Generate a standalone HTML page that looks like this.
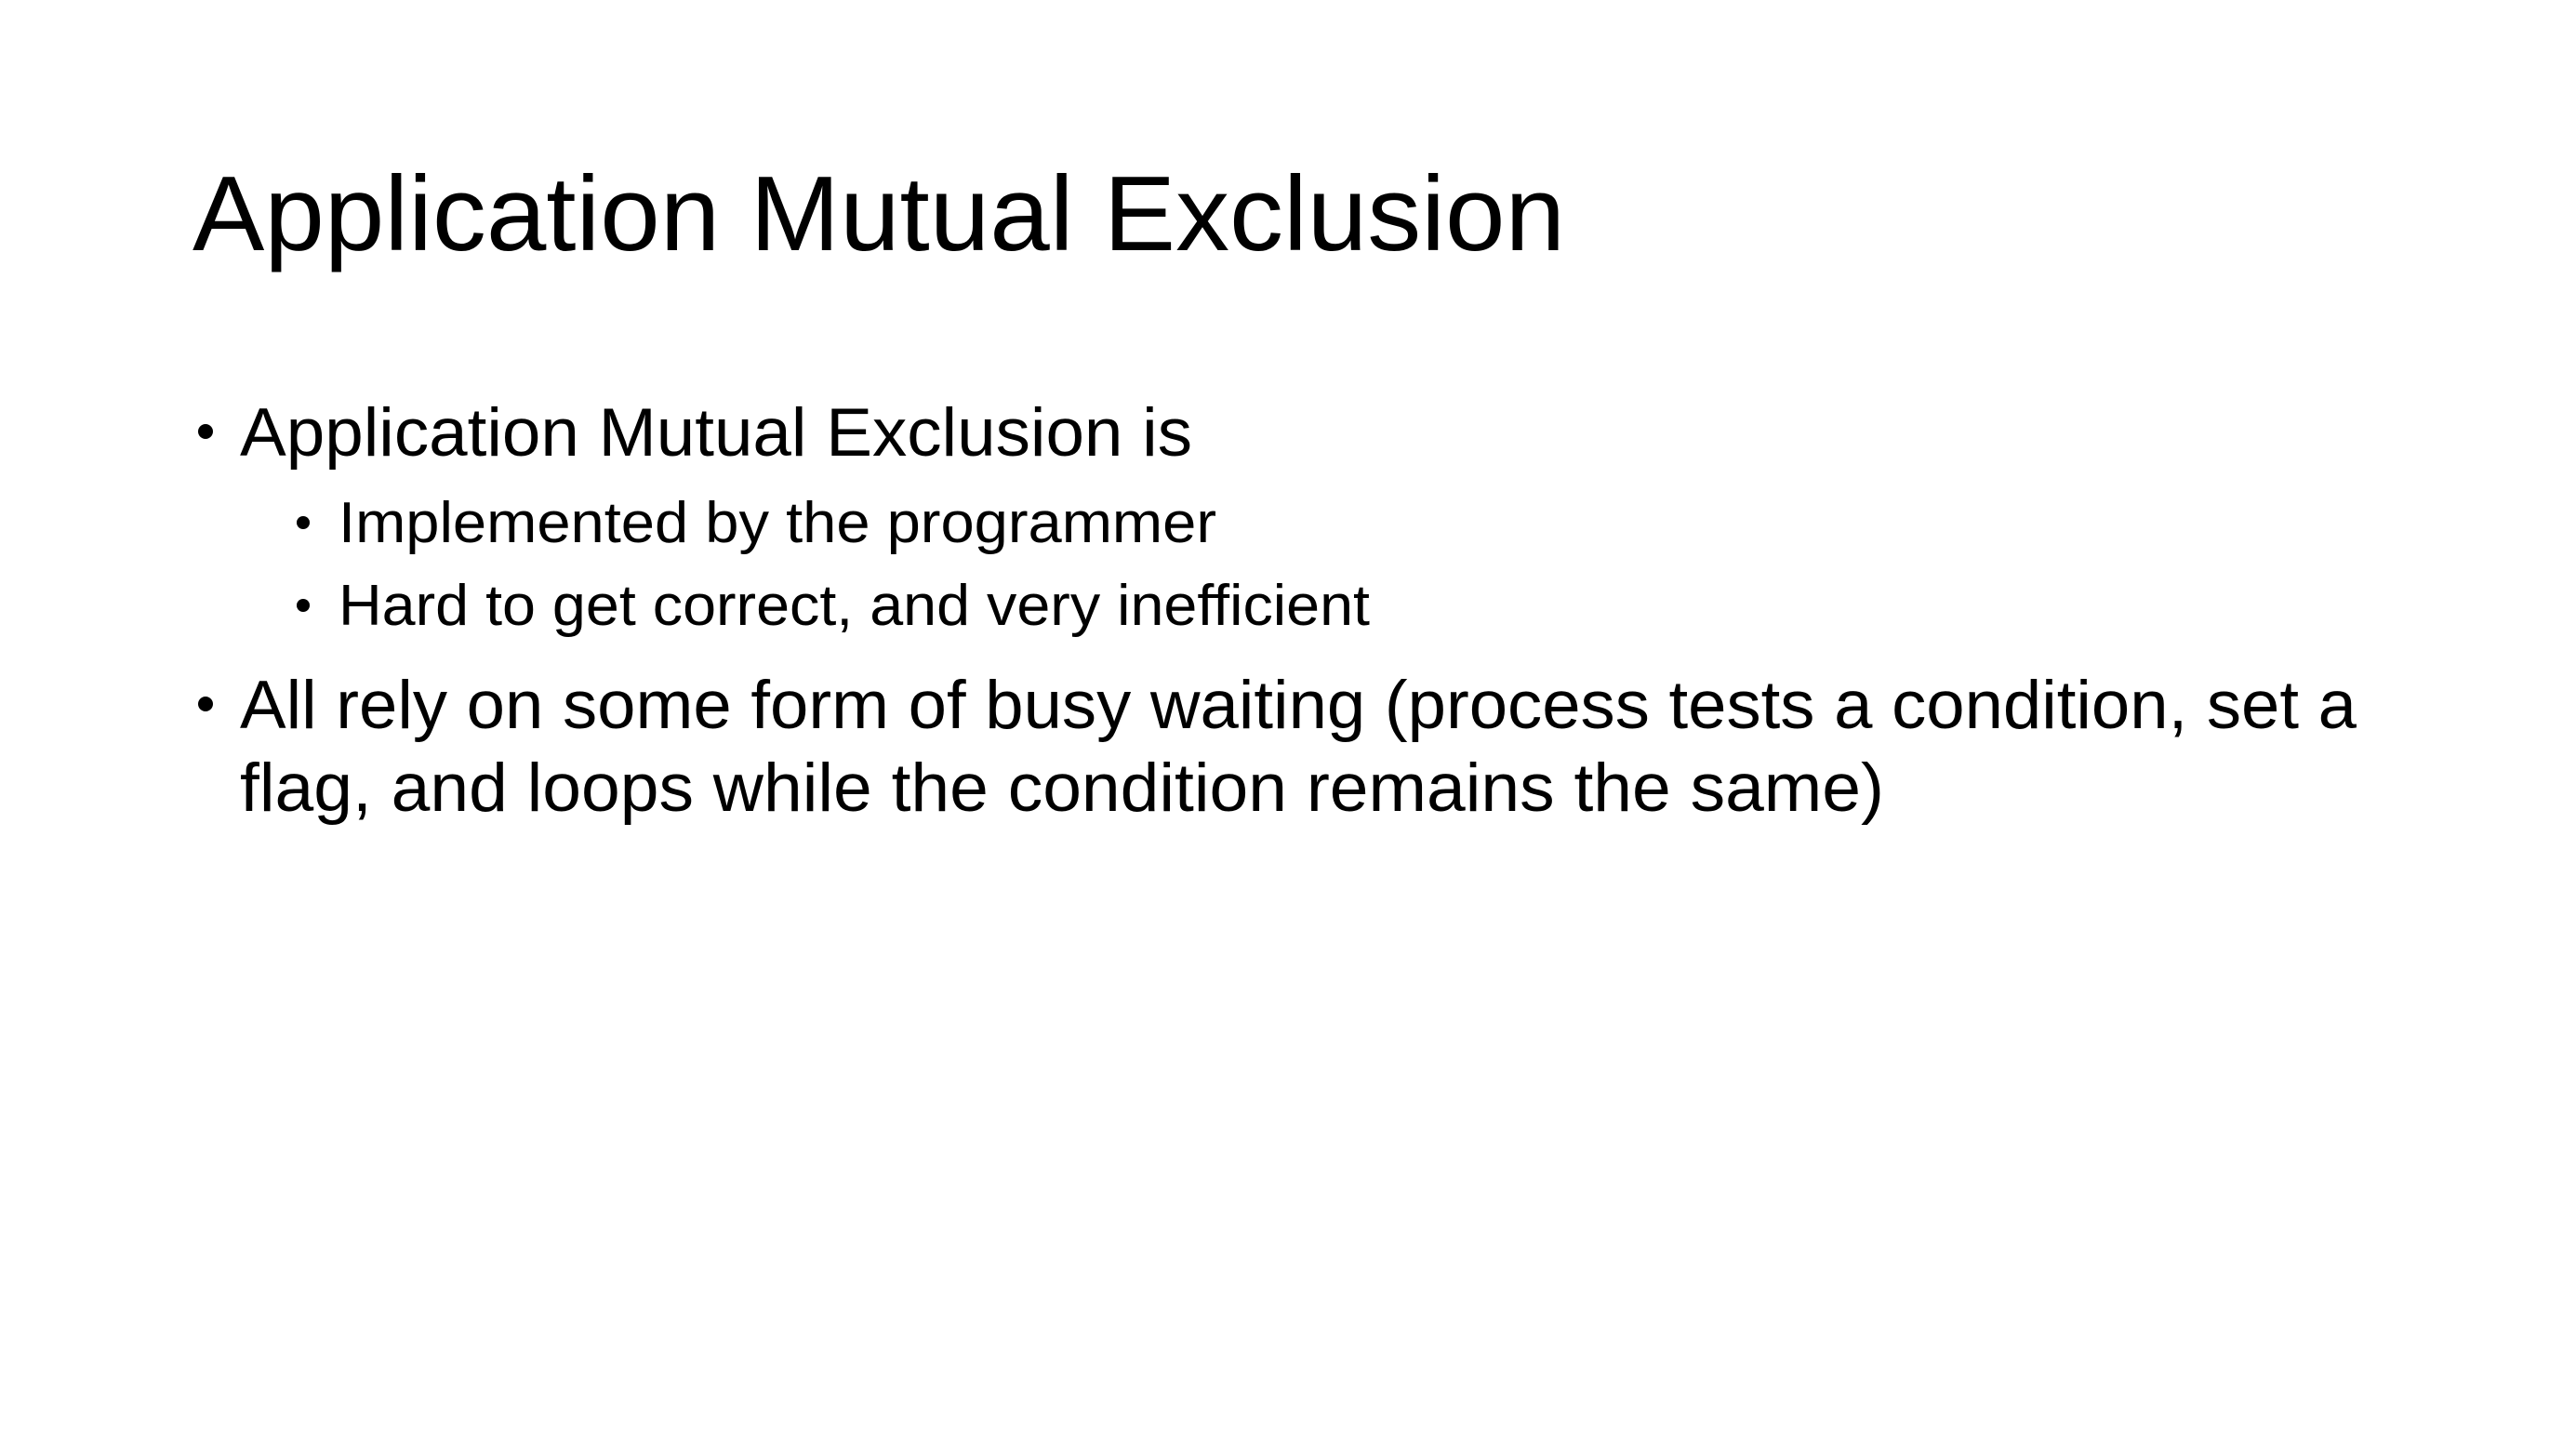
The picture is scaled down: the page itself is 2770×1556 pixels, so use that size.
<!DOCTYPE html>
<html><head><meta charset="utf-8"><style>
html,body{margin:0;padding:0;background:#fff;}
svg{display:block;}
text{font-family:"Liberation Sans",sans-serif;fill:#000;}
</style></head><body>
<svg width="2770" height="1556" viewBox="0 0 2770 1556" xmlns="http://www.w3.org/2000/svg">
<rect width="2770" height="1556" fill="#fff"/>
<text x="207" y="269" font-size="114" textLength="1476" lengthAdjust="spacingAndGlyphs" style="font-weight:300">Application Mutual Exclusion</text>
<circle cx="221" cy="464" r="8"/>
<text x="258" y="490" font-size="73" textLength="1024" lengthAdjust="spacingAndGlyphs">Application Mutual Exclusion is</text>
<circle cx="326" cy="562" r="7"/>
<text x="364" y="583" font-size="62" textLength="944" lengthAdjust="spacingAndGlyphs">Implemented by the programmer</text>
<circle cx="326" cy="651" r="7"/>
<text x="364" y="672" font-size="62" textLength="1109" lengthAdjust="spacingAndGlyphs">Hard to get correct, and very inefficient</text>
<circle cx="221" cy="757" r="8"/>
<text x="258" y="783" font-size="73" textLength="2276" lengthAdjust="spacingAndGlyphs">All rely on some form of busy waiting (process tests a condition, set a</text>
<text x="258" y="872" font-size="73" textLength="1768" lengthAdjust="spacingAndGlyphs">flag, and loops while the condition remains the same)</text>
</svg>
</body></html>
